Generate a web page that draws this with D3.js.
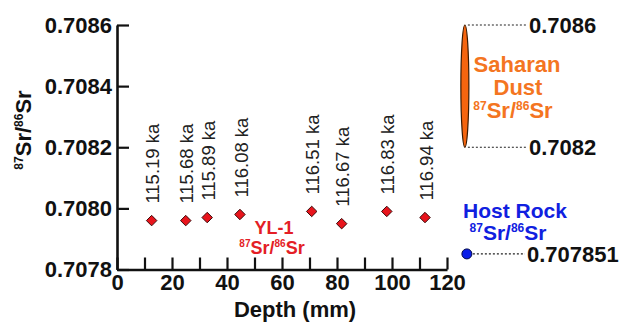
<!DOCTYPE html>
<html>
<head>
<meta charset="utf-8">
<script src="https://cdn.jsdelivr.net/npm/d3@7"></script>
<style>
  body { margin: 0; background: #fff; }
  text { font-family: "Liberation Sans", Arial, sans-serif; }
</style>
</head>
<body>
<svg width="621" height="322"></svg>
<script>
// YL-1 samples
var depth = [12.6, 25.0, 32.8, 44.7, 70.8, 81.7, 98.1, 112.0];
var ratio = [0.70796, 0.70796, 0.70797, 0.70798, 0.70799, 0.70795, 0.70799, 0.70797];
var ages = ["115.19 ka", "115.68 ka", "115.89 ka", "116.08 ka", "116.51 ka", "116.67 ka", "116.83 ka", "116.94 ka"];

// end members
var dustRange = [0.7082, 0.7086];
var dustLabels = ["0.7086", "0.7082"];
var hostRock = 0.707851;
var hostLabel = "0.707851";
var endMemberDepth = 126.5;

var yTicks = [0.7078, 0.7080, 0.7082, 0.7084, 0.7086];
var xTicks = d3.range(0, 121, 10);

var svg = d3.select("svg");

var x = d3.scaleLinear().domain([0, 120]).range([117, 447]);
var y = d3.scaleLinear().domain([0.7078, 0.7086]).range([269.5, 25]);

// superscript ratio label 87Sr/86Sr
function srText(t, size) {
  var s = Math.round(size * 0.55);
  t.append("tspan").attr("font-size", s).attr("dy", -size * 0.38).text("87");
  t.append("tspan").attr("font-size", size).attr("dy", size * 0.38).text("Sr/");
  t.append("tspan").attr("font-size", s).attr("dy", -size * 0.38).text("86");
  t.append("tspan").attr("font-size", size).attr("dy", size * 0.38).text("Sr");
}

// axes
var xAxis = svg.append("g")
    .attr("transform", "translate(0," + y.range()[0] + ")")
    .call(d3.axisBottom(x).tickValues(xTicks).tickSize(-12).tickSizeOuter(0).tickPadding(5)
      .tickFormat(function(d) { return d % 20 === 0 ? d : ""; }));

var yAxis = svg.append("g")
    .attr("transform", "translate(" + x.range()[0] + ",0)")
    .call(d3.axisLeft(y).tickValues(yTicks).tickSize(-12).tickSizeOuter(0).tickPadding(5)
      .tickFormat(d3.format(".4f")));

[xAxis, yAxis].forEach(function(g) {
  g.select(".domain").attr("stroke", "#111").attr("stroke-width", 2.6);
  g.selectAll(".tick line").attr("stroke", "#111").attr("stroke-width", 2.2);
  g.selectAll(".tick text").attr("font-size", 22).attr("font-weight", "bold")
    .attr("fill", "#111").attr("font-family", "Liberation Sans, Arial, sans-serif");
});

svg.append("text")
    .attr("x", 295).attr("y", 317)
    .attr("text-anchor", "middle")
    .attr("font-size", 22).attr("font-weight", "bold").attr("fill", "#111")
    .text("Depth (mm)");

var yt = svg.append("text")
    .attr("transform", "translate(31,130) rotate(-90)")
    .attr("text-anchor", "middle")
    .attr("font-weight", "bold").attr("fill", "#111");
srText(yt, 22);

// age labels
svg.selectAll(".age")
  .data(depth)
  .enter().append("text")
    .attr("class", "age")
    .attr("transform", function(d, i) { return "translate(" + (x(d) + 1) + "," + (y(ratio[i]) - 17) + ") rotate(-90)"; })
    .attr("dy", "0.36em")
    .attr("font-size", 18.5)
    .attr("fill", "#222")
    .text(function(d, i) { return ages[i]; });

// YL-1 points
var diamond = d3.symbol().type(d3.symbolDiamond2).size(70);
svg.selectAll(".pt")
  .data(depth)
  .enter().append("path")
    .attr("class", "pt")
    .attr("transform", function(d, i) { return "translate(" + x(d) + "," + y(ratio[i]) + ")"; })
    .attr("d", diamond)
    .attr("fill", "#e8141c")
    .attr("stroke", "#3a0a0a")
    .attr("stroke-width", 1);

svg.append("text")
    .attr("x", 274).attr("y", 234)
    .attr("text-anchor", "middle")
    .attr("font-size", 18).attr("font-weight", "bold").attr("fill", "#e41e26")
    .text("YL-1");
var yl = svg.append("text")
    .attr("x", 272).attr("y", 254)
    .attr("text-anchor", "middle")
    .attr("font-weight", "bold").attr("fill", "#e41e26");
srText(yl, 18);

// Saharan dust range
var ex = x(endMemberDepth);
svg.append("ellipse")
    .attr("cx", ex)
    .attr("cy", (y(dustRange[0]) + y(dustRange[1])) / 2)
    .attr("rx", 4)
    .attr("ry", (y(dustRange[0]) - y(dustRange[1])) / 2)
    .attr("fill", "#f5650f")
    .attr("stroke", "#3a1a00")
    .attr("stroke-width", 1.2);

var dustVals = [dustRange[1], dustRange[0]];
svg.selectAll(".dline")
  .data(dustVals)
  .enter().append("line")
    .attr("x1", ex + 3).attr("x2", 527)
    .attr("y1", function(d) { return y(d); })
    .attr("y2", function(d) { return y(d); })
    .attr("stroke", "#222").attr("stroke-width", 1.2).attr("stroke-dasharray", "2,2");
svg.selectAll(".dlab")
  .data(dustVals)
  .enter().append("text")
    .attr("x", 529)
    .attr("y", function(d) { return y(d); })
    .attr("dy", "0.36em")
    .attr("font-size", 22).attr("font-weight", "bold").attr("fill", "#111")
    .text(function(d, i) { return dustLabels[i]; });

var orange = "#f47521";
svg.append("text").attr("x", 517).attr("y", 72).attr("text-anchor", "middle")
    .attr("font-size", 22).attr("font-weight", "bold").attr("fill", orange).text("Saharan");
svg.append("text").attr("x", 518).attr("y", 95).attr("text-anchor", "middle")
    .attr("font-size", 22).attr("font-weight", "bold").attr("fill", orange).text("Dust");
var sd = svg.append("text").attr("x", 513).attr("y", 118).attr("text-anchor", "middle")
    .attr("font-weight", "bold").attr("fill", orange);
srText(sd, 22);

// host rock
var blue = "#1020e0";
svg.append("line")
    .attr("x1", ex + 4).attr("x2", 525)
    .attr("y1", y(hostRock)).attr("y2", y(hostRock))
    .attr("stroke", "#222").attr("stroke-width", 1.2).attr("stroke-dasharray", "2,2");
svg.append("circle")
    .attr("cx", ex + 2).attr("cy", y(hostRock)).attr("r", 5)
    .attr("fill", "#0a1ee8").attr("stroke", "#00084a").attr("stroke-width", 1);
svg.append("text")
    .attr("x", 527).attr("y", y(hostRock)).attr("dy", "0.36em")
    .attr("font-size", 22).attr("font-weight", "bold").attr("fill", "#111")
    .text(hostLabel);
svg.append("text").attr("x", 515).attr("y", 218).attr("text-anchor", "middle")
    .attr("font-size", 21).attr("font-weight", "bold").attr("fill", blue).text("Host Rock");
var hr = svg.append("text").attr("x", 508).attr("y", 240).attr("text-anchor", "middle")
    .attr("font-weight", "bold").attr("fill", blue);
srText(hr, 21);
</script>
</body>
</html>
